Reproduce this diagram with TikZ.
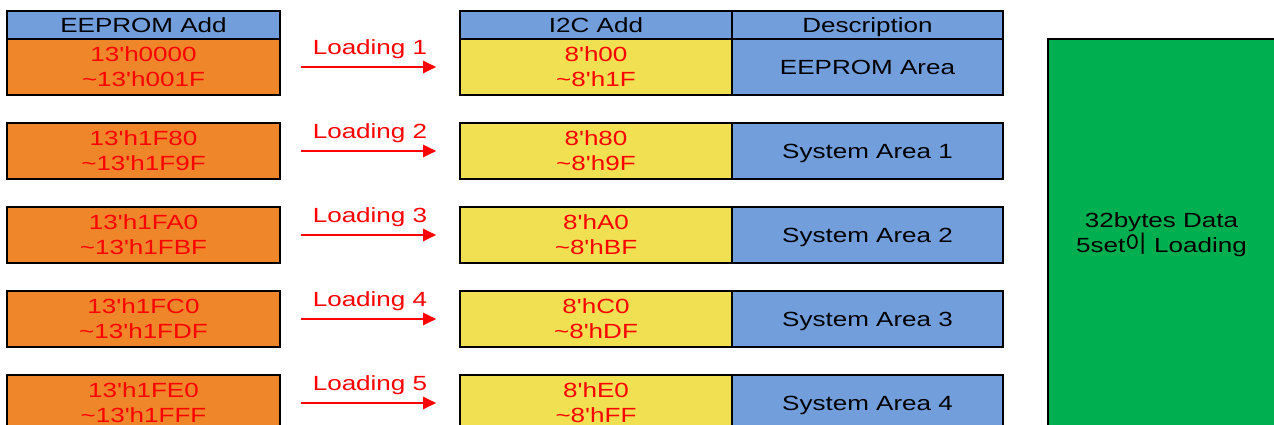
\documentclass[tikz,border=0pt]{standalone}
\usepackage{fontspec}
\setmainfont{Liberation Sans}[FakeStretch=1.27,Ligatures=TeXOff]
\newfontfamily\krfont{Noto Sans CJK KR}[Scale=1.15]
\usepackage{xcolor}
\usepackage{tikz}
\usetikzlibrary{arrows.meta}

\definecolor{hdrblue}{RGB}{114,159,220}
\definecolor{addrorange}{RGB}{240,134,42}
\definecolor{addryellow}{RGB}{240,224,82}
\definecolor{datagreen}{RGB}{0,176,80}

\begin{document}
\begin{tikzpicture}[x=1pt,y=-1pt,
  cell/.style={draw=black,line width=1.6pt,inner sep=0pt,align=center,
    font=\fontsize{20.5}{25}\selectfont},
  oneline/.style={text height=14.7pt,text depth=0pt},
  head/.style={cell,oneline,fill=hdrblue,minimum height=28pt},
  eeprom/.style={cell,fill=addrorange,text=red,minimum width=273pt,minimum height=56pt},
  i2c/.style={cell,fill=addryellow,text=red,minimum width=272pt,minimum height=56pt},
  desc/.style={cell,oneline,fill=hdrblue,minimum width=271pt,minimum height=56pt},
  load/.style={red,line width=2.4pt,shorten <=20pt,shorten >=23pt,
    -{Triangle[length=13pt,width=12pt]}},
  loadtext/.style={red,font=\fontsize{20.5}{25}\selectfont,inner sep=0pt,above=7pt}]
\clip (0,0) rectangle (1274,425);
% headers
\node (h1) at (143.5,25) [head,minimum width=273pt] {EEPROM Add};
\node (h2) at (596,25) [head,minimum width=272pt] {I2C Add};
\node (h3) at (867.5,25) [head,minimum width=271pt] {Description};
% eeprom side
\node (e1) at (143.5,67) [eeprom] {13'h0000\\\textasciitilde13'h001F};
\node (e2) at (143.5,151) [eeprom] {13'h1F80\\\textasciitilde13'h1F9F};
\node (e3) at (143.5,235) [eeprom] {13'h1FA0\\\textasciitilde13'h1FBF};
\node (e4) at (143.5,319) [eeprom] {13'h1FC0\\\textasciitilde13'h1FDF};
\node (e5) at (143.5,403) [eeprom] {13'h1FE0\\\textasciitilde13'h1FFF};
% i2c side
\node (i1) at (596,67) [i2c] {8'h00\\\textasciitilde8'h1F};
\node (i2) at (596,151) [i2c] {8'h80\\\textasciitilde8'h9F};
\node (i3) at (596,235) [i2c] {8'hA0\\\textasciitilde8'hBF};
\node (i4) at (596,319) [i2c] {8'hC0\\\textasciitilde8'hDF};
\node (i5) at (596,403) [i2c] {8'hE0\\\textasciitilde8'hFF};
% description
\node (d1) at (867.5,67) [desc] {EEPROM Area};
\node (d2) at (867.5,151) [desc] {System Area 1};
\node (d3) at (867.5,235) [desc] {System Area 2};
\node (d4) at (867.5,319) [desc] {System Area 3};
\node (d5) at (867.5,403) [desc] {System Area 4};
% data block
\node (data) at (1161.5,235) [cell,fill=datagreen,minimum width=227pt,minimum height=392pt]
  {32bytes Data\\5set{\krfont 이} Loading};
% loading arrows
\draw[load] (e1) -- node[loadtext] {Loading 1} (i1);
\draw[load] (e2) -- node[loadtext] {Loading 2} (i2);
\draw[load] (e3) -- node[loadtext] {Loading 3} (i3);
\draw[load] (e4) -- node[loadtext] {Loading 4} (i4);
\draw[load] (e5) -- node[loadtext] {Loading 5} (i5);
\end{tikzpicture}
\end{document}
